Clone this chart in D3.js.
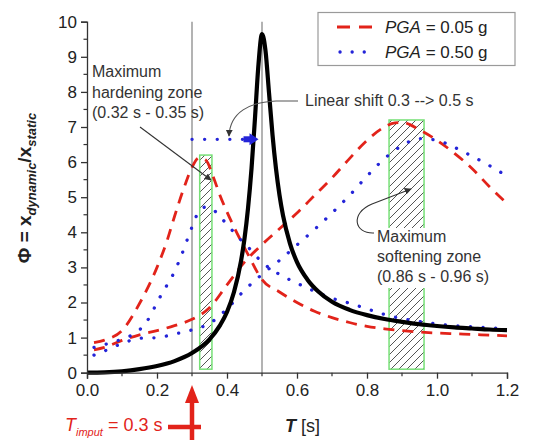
<!DOCTYPE html>
<html><head><meta charset="utf-8">
<script src="https://cdn.jsdelivr.net/npm/d3@7"></script>
<style>
html,body{margin:0;padding:0;background:#fff;}
text{font-family:"Liberation Sans",Arial,sans-serif;}
</style></head>
<body><svg id="c" width="539" height="440"></svg>
<script>
// ---------------- data ----------------
const xTicks = [0.0, 0.2, 0.4, 0.6, 0.8, 1.0, 1.2];
const yTicks = [0,1,2,3,4,5,6,7,8,9,10];

// linear SDOF (black)
const T_lin = [0,0.05,0.1,0.15,0.2,0.25,0.3,0.35,0.38,0.4,0.42,0.44,0.45,0.46,0.47,0.48,0.49,0.5,0.51,0.52,0.53,0.54,0.55,0.56,0.58,0.6,0.63,0.66,0.7,0.75,0.8,0.85,0.9,0.95,1.0,1.05,1.1,1.15,1.2];
const phi_lin = [0,0.01,0.04,0.1,0.19,0.33,0.56,0.95,1.35,1.73,2.3,3.18,3.82,4.68,5.81,7.26,8.79,9.65,9.17,7.98,6.78,5.81,5.06,4.48,3.68,3.15,2.65,2.32,2.02,1.79,1.64,1.53,1.45,1.38,1.33,1.29,1.26,1.23,1.21];

// PGA = 0.05 g (red dashed), two curves
const T_r1 = [0.02,0.05,0.1,0.15,0.2,0.23,0.25,0.28,0.3,0.32,0.34,0.36,0.38,0.4,0.42,0.44,0.46,0.5,0.55,0.6,0.65,0.7,0.75,0.8,0.85,0.9,0.95,1.0,1.05,1.1,1.15,1.2];
const phi_r1 = [0.86,0.93,1.2,1.97,3.0,3.8,4.45,5.35,5.85,6.12,6.05,5.6,5.05,4.58,4.15,3.75,3.37,2.65,2.3,2.0,1.75,1.57,1.43,1.32,1.25,1.2,1.16,1.13,1.11,1.09,1.07,1.05];
const T_r2 = [0.02,0.05,0.1,0.15,0.2,0.25,0.3,0.35,0.4,0.45,0.5,0.55,0.6,0.65,0.7,0.75,0.8,0.85,0.88,0.9,0.95,1.0,1.05,1.1,1.15,1.2];
const phi_r2 = [0.65,0.72,0.92,1.08,1.2,1.34,1.52,1.85,2.5,3.15,3.65,4.1,4.55,5.05,5.55,6.1,6.62,7.0,7.12,7.13,6.92,6.62,6.25,5.82,5.3,4.82];

// PGA = 0.50 g (blue dotted), two curves
const T_b1 = [0.02,0.05,0.1,0.15,0.18,0.2,0.22,0.25,0.27,0.3,0.32,0.34,0.36,0.38,0.4,0.42,0.44,0.46,0.5,0.55,0.6,0.65,0.7,0.75,0.8,0.85,0.9,0.95,1.0,1.05,1.1,1.15,1.2];
const phi_b1 = [0.72,0.8,0.96,1.22,1.6,2.0,2.35,2.88,3.35,4.15,4.6,4.72,4.65,4.45,4.22,4.0,3.78,3.58,3.15,2.8,2.55,2.32,2.12,1.98,1.82,1.66,1.54,1.46,1.39,1.34,1.31,1.28,1.26];
const T_b2 = [0.02,0.05,0.1,0.15,0.2,0.25,0.3,0.35,0.4,0.45,0.5,0.55,0.6,0.65,0.7,0.75,0.8,0.85,0.9,0.95,1.0,1.05,1.1,1.15,1.2];
const phi_b2 = [0.5,0.62,0.83,0.98,1.0,1.1,1.22,1.4,1.82,2.35,2.8,3.2,3.64,4.08,4.55,5.05,5.6,6.1,6.47,6.67,6.62,6.42,6.17,5.9,5.6];

// zones and markers
const hardZone = {t0:0.322, t1:0.357, p0:0.1, p1:6.2};
const softZone = {t0:0.863, t1:0.963, p0:0.1, p1:7.2};
const refLines = [0.3, 0.5];
const shift = {t0:0.3, t1:0.49, phi:6.65};
const T_input = 0.3;

// ---------------- drawing ----------------
const svg = d3.select("#c");
const x = d3.scaleLinear().domain([0,1.2]).range([87,507]);
const y = d3.scaleLinear().domain([0,10]).range([372.7,21.7]);

const defs = svg.append("defs");
const pat = defs.append("pattern").attr("id","hatch").attr("patternUnits","userSpaceOnUse")
  .attr("width",8).attr("height",8);
pat.append("path").attr("d","M-2,2 l4,-4 M0,8 l8,-8 M6,10 l4,-4")
  .attr("stroke","#555").attr("stroke-width",1);
const mk = defs.append("marker").attr("id","arr").attr("viewBox","0 0 10 10")
  .attr("refX",9).attr("refY",5).attr("markerWidth",7).attr("markerHeight",7)
  .attr("orient","auto").attr("markerUnits","userSpaceOnUse");
mk.append("path").attr("d","M0,0 L10,5 L0,10 z").attr("fill","#333");

// zones
[hardZone, softZone].forEach(z=>{
  svg.append("rect").attr("x",x(z.t0)).attr("y",y(z.p1))
    .attr("width",x(z.t1)-x(z.t0)).attr("height",y(z.p0)-y(z.p1))
    .attr("fill","url(#hatch)").attr("stroke","#77e077").attr("stroke-width",1.5);
});

// reference vertical lines
refLines.forEach(t=>{
  svg.append("line").attr("x1",x(t)).attr("x2",x(t)).attr("y1",y(10)).attr("y2",y(0))
    .attr("stroke","#8a8a8a").attr("stroke-width",1.3);
});

const line = d3.line().x(d=>x(d[0])).y(d=>y(d[1])).curve(d3.curveMonotoneX);
const zip = (a,b)=>a.map((t,i)=>[t,b[i]]);

const red = "#e2231a", blue = "#2424d8";
[[T_r1,phi_r1],[T_r2,phi_r2]].forEach(([a,b])=>{
  svg.append("path").attr("d",line(zip(a,b))).attr("fill","none")
    .attr("stroke",red).attr("stroke-width",2.8).attr("stroke-dasharray","11,8");
});
[[T_b1,phi_b1],[T_b2,phi_b2]].forEach(([a,b])=>{
  svg.append("path").attr("d",line(zip(a,b))).attr("fill","none")
    .attr("stroke",blue).attr("stroke-width",3.3).attr("stroke-linecap","round")
    .attr("stroke-dasharray","0.1,12.5");
});
svg.append("path").attr("d",line(zip(T_lin,phi_lin))).attr("fill","none")
  .attr("stroke","#000").attr("stroke-width",4.2);

// shift arrow (blue dotted)
svg.append("line").attr("x1",x(shift.t0)).attr("x2",x(shift.t1)-14)
  .attr("y1",y(shift.phi)).attr("y2",y(shift.phi))
  .attr("stroke",blue).attr("stroke-width",3.3).attr("stroke-linecap","round")
  .attr("stroke-dasharray","0.1,12.5");
{
  const tx = x(shift.t1), ty = y(shift.phi);
  svg.append("rect").attr("x",tx-15).attr("y",ty-3).attr("width",7).attr("height",6).attr("fill",blue);
  svg.append("path").attr("d",`M${tx-9},${ty-6} L${tx},${ty} L${tx-9},${ty+6} Z`).attr("fill",blue);
}

// axes
const xAxis = d3.axisBottom(x).tickValues(xTicks).tickFormat(d3.format(".1f")).tickSize(6).tickPadding(5);
const gx = svg.append("g").attr("transform",`translate(0,${y(0)})`).call(xAxis);
const yAxis = d3.axisLeft(y).tickValues(yTicks).tickFormat(d3.format("d")).tickSize(6).tickPadding(4);
const gy = svg.append("g").attr("transform",`translate(${x(0)},0)`).call(yAxis);
[gx,gy].forEach(g=>{
  g.select(".domain").attr("stroke","#333").attr("stroke-width",1.3);
  g.selectAll(".tick line").attr("stroke","#333").attr("stroke-width",1.3);
  g.selectAll(".tick text").attr("font-size",17).attr("fill","#222")
    .attr("font-family","'Liberation Sans',Arial,sans-serif");
});
// minor ticks
const xMinor = d3.range(0.1,1.2,0.2);
svg.append("g").selectAll("line").data(xMinor).join("line")
  .attr("x1",d=>x(d)).attr("x2",d=>x(d)).attr("y1",y(0)).attr("y2",y(0)+3.5)
  .attr("stroke","#333").attr("stroke-width",1.2);
const yMinor = d3.range(0.5,10,1);
svg.append("g").selectAll("line").data(yMinor).join("line")
  .attr("x1",x(0)).attr("x2",x(0)-3.5).attr("y1",d=>y(d)).attr("y2",d=>y(d))
  .attr("stroke","#333").attr("stroke-width",1.2);

// axis titles
const xt = svg.append("text").attr("x",285).attr("y",432).attr("font-size",18).attr("fill","#222");
xt.append("tspan").attr("font-weight","bold").attr("font-style","italic").text("T");
xt.append("tspan").text(" [s]");

const yt = svg.append("text").attr("transform","translate(31,188) rotate(-90)")
  .attr("text-anchor","middle").attr("font-size",19).attr("font-weight","bold").attr("fill","#222");
yt.append("tspan").text("\u03A6 = x");
yt.append("tspan").attr("font-size",13).attr("font-style","italic").attr("dy",5).text("dynamic");
yt.append("tspan").attr("dy",-5).text("/x");
yt.append("tspan").attr("font-size",13).attr("font-style","italic").attr("dy",5).text("static");

// T input marker
const ti = svg.append("text").attr("x",65).attr("y",431).attr("font-size",18).attr("fill",red);
ti.append("tspan").attr("font-style","italic").text("T");
ti.append("tspan").attr("font-style","italic").attr("font-size",11).attr("dy",5).text("imput");
ti.append("tspan").attr("dy",-5).text(" = 0.3 s");
{
  const px = x(T_input);
  svg.append("line").attr("x1",px).attr("x2",px).attr("y1",400).attr("y2",440)
    .attr("stroke",red).attr("stroke-width",4.5);
  svg.append("path").attr("d",`M${px-7},${403} L${px},${385} L${px+7},${403} Z`).attr("fill",red);
  svg.append("line").attr("x1",168).attr("x2",px+9).attr("y1",427).attr("y2",427)
    .attr("stroke",red).attr("stroke-width",4.5);
}

// annotations
const ann = (x0, ys, lines) => {
  const t = svg.append("text").attr("font-size",16).attr("fill","#333");
  lines.forEach((s,i)=>t.append("tspan").attr("x",x0).attr("y",ys[i]).text(s));
  return t;
};
ann(92,[77,97.5,118],["Maximum","hardening zone","(0.32 s - 0.35 s)"]);
svg.append("line").attr("x1",140).attr("y1",127).attr("x2",211).attr("y2",180)
  .attr("stroke","#333").attr("stroke-width",1.1).attr("marker-end","url(#arr)");

ann(305,[106],["Linear shift 0.3 --> 0.5 s"]);
svg.append("path").attr("d","M298,101 L276,101 C250,102 230,112 229,136")
  .attr("fill","none").attr("stroke","#555").attr("stroke-width",1.1).attr("marker-end","url(#arr)");

svg.append("rect").attr("x",374).attr("y",228).attr("width",122).attr("height",60).attr("fill","#fff");
ann(377,[242,262,282],["Maximum","softening zone","(0.86 s - 0.96 s)"]);
svg.append("path").attr("d","M374,233 C354,234 350,213 372,204 L411,189")
  .attr("fill","none").attr("stroke","#333").attr("stroke-width",1.1).attr("marker-end","url(#arr)");

// legend
svg.append("rect").attr("x",318).attr("y",12.5).attr("width",197).attr("height",53)
  .attr("fill","#fff").attr("stroke","#9a9a9a").attr("stroke-width",1.2);
svg.append("line").attr("x1",337).attr("x2",374).attr("y1",27).attr("y2",27)
  .attr("stroke",red).attr("stroke-width",2.8).attr("stroke-dasharray","13,9");
svg.append("line").attr("x1",340).attr("x2",372).attr("y1",52).attr("y2",52)
  .attr("stroke",blue).attr("stroke-width",3.3).attr("stroke-linecap","round").attr("stroke-dasharray","0.1,12");
const lg = (yy, v) => {
  const t = svg.append("text").attr("x",385).attr("y",yy).attr("font-size",17).attr("fill","#222");
  t.append("tspan").attr("font-style","italic").text("PGA");
  t.append("tspan").text(" = " + v + " g");
};
lg(33, "0.05");
lg(58, "0.50");
</script></body></html>
